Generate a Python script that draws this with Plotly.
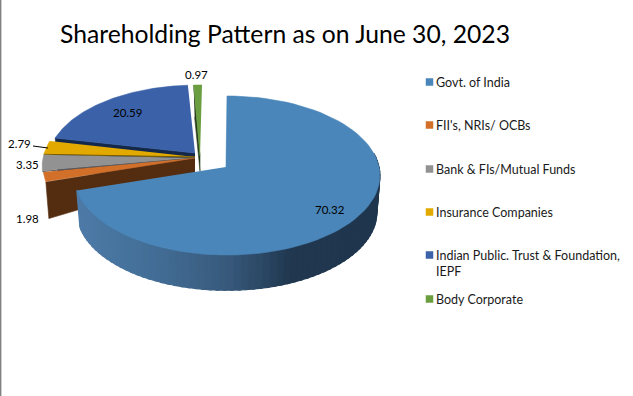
import numpy as np
import plotly.graph_objects as go

categories = ["Govt. of India", "FII's, NRIs/ OCBs", "Bank & FIs/Mutual Funds",
              "Insurance Companies", "Indian Public. Trust & Foundation,<br>IEPF", "Body Corporate"]
values = [70.32, 1.98, 3.35, 2.79, 20.59, 0.97]
value_labels = ["70.32", "1.98", "3.35", "2.79", "20.59", "0.97"]
colors = ["#4A86B9", "#D2702A", "#929292", "#E2AA00", "#3B62A8", "#6A9E3F"]
title = "Shareholding Pattern as on June 30, 2023"

# projection of the 3D pie
A, B, K = 78.6, 152.0, 0.107
DEPTH, BOTTOM_SCALE = 37.0, 0.98
rim_centers = [(227, 167), (196, 158.5), (195, 158), (195, 157.5), (196, 154), (202, 156)]
rim_scales = [1, 1, 1, 1, 0.97, 1]
apexes = [(226, 167), (195, 158), (195, 158), (195, 157), (195, 153), (200, 156)]
label_xy = [(330, 209), (27, 218), (27, 164), (19, 143), (127, 112), (196, 74)]
legend_y = [82, 125, 169, 212, 255, 299]

def rim(theta_deg, c, s=1.0, dy=0.0):
    t = np.radians(np.asarray(theta_deg, dtype=float))
    X, Y = np.sin(t), np.cos(t)
    d = 1 + K * Y
    return c[0] + s * B * X / d, c[1] + dy - s * A * Y / d

edges = np.cumsum([0] + values) / sum(values) * 360
fig = go.Figure()

def poly(xs, ys, fill, line=None, width=0.6):
    fig.add_trace(go.Scatter(x=list(xs), y=list(ys), mode="lines", fill="toself", fillcolor=fill,
                             line=dict(color=line or fill, width=width), hoverinfo="skip",
                             showlegend=False))

def seg(xs, ys, color, width=1):
    fig.add_trace(go.Scatter(x=list(xs), y=list(ys), mode="lines", line=dict(color=color, width=width),
                             hoverinfo="skip", showlegend=False))

def slice_top(i):
    th = np.linspace(edges[i], edges[i + 1], 80)
    x, y = rim(th, rim_centers[i], rim_scales[i])
    poly(np.r_[apexes[i][0], x], np.r_[apexes[i][1], y], colors[i])

def cut_face(i, theta, color):
    x0, y0 = rim(theta, rim_centers[i], rim_scales[i])
    x1, y1 = rim(theta, rim_centers[i], BOTTOM_SCALE * rim_scales[i], DEPTH)
    ax, ay = apexes[i]
    poly([ax, x0, x1, ax], [ay, y0, y1, ay + DEPTH * 0.46], color)

# green slice, back
x0, y0 = rim(edges[5], rim_centers[5])
ax, ay = apexes[5]
poly([x0, ax, ax, x0 + 1], [y0, ay, ay + 15, y0 + 32], "#24391A")
slice_top(5)

# public slice
cut_face(4, edges[4], "#14284A")
slice_top(4)
# insurance, bank, FII
slice_top(3)
xe, ye = rim(edges[3], rim_centers[3])
seg([xe, apexes[3][0]], [ye, apexes[3][1]], "#7A5C00")
slice_top(2)
xe, ye = rim(edges[2], rim_centers[2])
seg([xe, apexes[2][0]], [ye, apexes[2][1]], "#5A5A5A")
cut_face(1, edges[1], "#542D10")
slice_top(1)

# shaded outer wall of the large slice
stops_x = [78, 110, 160, 226, 290, 380]
stops_rgb = np.array([[78, 122, 168], [72, 118, 160], [66, 108, 148], [56, 90, 124], [33, 56, 80], [31, 54, 78]])
w = np.linspace(80, edges[1], 70)
for a, b in zip(w[:-1], w[1:]):
    tx, ty = rim([a, b + 0.8], rim_centers[0])
    bx, by = rim([b + 0.8, a], rim_centers[0], BOTTOM_SCALE, DEPTH)
    if b + 0.8 > edges[1]:
        tx, ty = rim([a, b], rim_centers[0])
        bx, by = rim([b, a], rim_centers[0], BOTTOM_SCALE, DEPTH)
    xm = tx.mean()
    c = [int(np.interp(xm, stops_x, stops_rgb[:, j])) for j in range(3)]
    poly(np.r_[tx, bx, tx[0]], np.r_[ty, by, ty[0]], f"rgb({c[0]},{c[1]},{c[2]})", width=1.2)

# sliver of the far cut face, then the large slice's top
x0, y0 = rim(edges[0], rim_centers[0])
seg([x0 + 1, apexes[0][0] + 1], [y0 + 6, apexes[0][1]], "#1F364E", 1.2)
slice_top(0)

# value labels
annotations = []
for txt, (lx, ly) in zip(value_labels, label_xy):
    annotations.append(dict(x=lx, y=ly, text=txt, showarrow=False, xanchor="center", yanchor="middle",
                            font=dict(family="Lato", size=11.5, color="#000000")))
# leader line for the Insurance label
seg([33, 48], [146, 148], "#000000", 1)

# legend
fig.add_trace(go.Scatter(x=[429.5] * len(categories), y=legend_y, mode="markers",
                         marker=dict(symbol="square", size=7.5, color=colors, line=dict(width=0)),
                         hoverinfo="skip", showlegend=False))
for cat, ly in zip(categories, legend_y):
    annotations.append(dict(x=434, y=ly - 9, text=cat, showarrow=False, xanchor="left", yanchor="top", align="left",
                            font=dict(family="Lato", size=12.5, color="#1A1A1A")))
annotations.append(dict(x=58, y=33, text=title, showarrow=False, xanchor="left", yanchor="middle",
                        font=dict(family="Lato", size=24.7, color="#000000")))

fig.update_layout(
    width=633, height=396, margin=dict(l=0, r=0, t=0, b=0), paper_bgcolor="#FFFFFF", plot_bgcolor="#FFFFFF",
    xaxis=dict(range=[0, 633], visible=False, fixedrange=True),
    yaxis=dict(range=[396, 0], visible=False, fixedrange=True),
    annotations=annotations, showlegend=False,
    shapes=[dict(type="line", xref="paper", yref="paper", x0=0.001, x1=0.001, y0=0, y1=1,
                 line=dict(color="#808080", width=1.5))],
)
fig.write_html("out.html", config=dict(displayModeBar=False),
               post_script="document.body.style.margin='0';document.documentElement.style.overflow='hidden';")
